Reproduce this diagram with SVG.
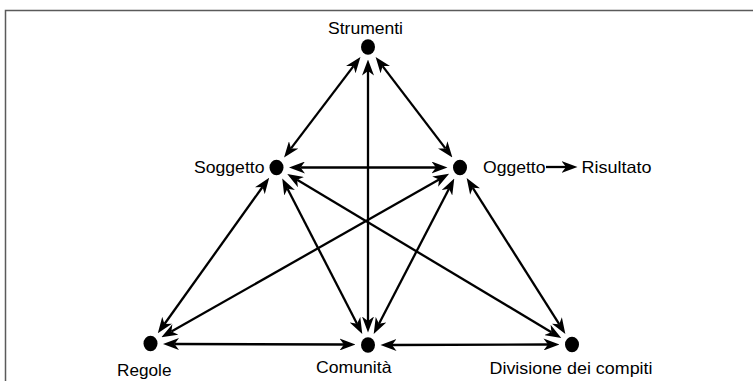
<svg xmlns="http://www.w3.org/2000/svg" width="753" height="381" viewBox="0 0 753 381">
<style>
.lbl{font-family:"Liberation Sans",Arial,sans-serif;font-size:16.5px;fill:#000}
.dot{fill:#000}
.edge{stroke:#000;stroke-width:2.3;fill:none}
</style>
<defs>
<marker id="ah" viewBox="0 0 16 12" refX="4.5" refY="6" markerWidth="16" markerHeight="12" markerUnits="userSpaceOnUse" orient="auto-start-reverse">
<path d="M0,0 L16,6 L0,12 L4.5,6 Z" fill="#000"/>
</marker>
</defs>
<rect width="753" height="381" fill="#fff"/>
<path d="M5.5,381 V10.5 H753" fill="none" stroke="#5a5a5a" stroke-width="1.5"/>
<g id="connectors">
<line class="edge" x1="353.5" y1="66.1" x2="291" y2="148.4" marker-start="url(#ah)" marker-end="url(#ah)"/>
<line class="edge" x1="382.6" y1="66.1" x2="445.4" y2="148.4" marker-start="url(#ah)" marker-end="url(#ah)"/>
<line class="edge" x1="368" y1="71" x2="368" y2="321" marker-start="url(#ah)" marker-end="url(#ah)"/>
<line class="edge" x1="300.5" y1="167.5" x2="436" y2="167.5" marker-start="url(#ah)" marker-end="url(#ah)"/>
<line class="edge" x1="262.5" y1="187" x2="164.5" y2="324" marker-start="url(#ah)" marker-end="url(#ah)"/>
<line class="edge" x1="287.5" y1="188.8" x2="357" y2="323.7" marker-start="url(#ah)" marker-end="url(#ah)"/>
<line class="edge" x1="297.1" y1="179.8" x2="551.4" y2="332.2" marker-start="url(#ah)" marker-end="url(#ah)"/>
<line class="edge" x1="439.1" y1="179.4" x2="171.4" y2="331.6" marker-start="url(#ah)" marker-end="url(#ah)"/>
<line class="edge" x1="449" y1="188.8" x2="379" y2="323.7" marker-start="url(#ah)" marker-end="url(#ah)"/>
<line class="edge" x1="472.8" y1="187.8" x2="559.2" y2="324.2" marker-start="url(#ah)" marker-end="url(#ah)"/>
<line class="edge" x1="174.5" y1="344" x2="344" y2="344.5" marker-start="url(#ah)" marker-end="url(#ah)"/>
<line class="edge" x1="392" y1="345" x2="548" y2="344.5" marker-start="url(#ah)" marker-end="url(#ah)"/>
<line class="edge" x1="546" y1="167" x2="566" y2="167" marker-end="url(#ah)"/>
</g>
<g id="strumenti"><ellipse class="dot" cx="368" cy="47" rx="7" ry="7.8"/><text class="lbl" x="328" y="34" textLength="75" lengthAdjust="spacingAndGlyphs">Strumenti</text></g>
<g id="soggetto"><ellipse class="dot" cx="276.5" cy="167.5" rx="7" ry="7.8"/><text class="lbl" x="194" y="173" textLength="70.5" lengthAdjust="spacingAndGlyphs">Soggetto</text></g>
<g id="oggetto"><ellipse class="dot" cx="460" cy="167.5" rx="7" ry="7.8"/><text class="lbl" x="483" y="173" textLength="62.5" lengthAdjust="spacingAndGlyphs">Oggetto</text></g>
<g id="risultato"><text class="lbl" x="581.5" y="173" textLength="70" lengthAdjust="spacingAndGlyphs">Risultato</text></g>
<g id="regole"><ellipse class="dot" cx="150.5" cy="343.5" rx="7" ry="7.8"/><text class="lbl" x="117" y="376" textLength="54.5" lengthAdjust="spacingAndGlyphs">Regole</text></g>
<g id="comunita"><ellipse class="dot" cx="368" cy="345" rx="7" ry="7.8"/><text class="lbl" x="316" y="373" textLength="75.5" lengthAdjust="spacingAndGlyphs">Comunità</text></g>
<g id="divisione"><ellipse class="dot" cx="572" cy="344.5" rx="7" ry="7.8"/><text class="lbl" x="489.5" y="373.5" textLength="163" lengthAdjust="spacingAndGlyphs">Divisione dei compiti</text></g>
</svg>
